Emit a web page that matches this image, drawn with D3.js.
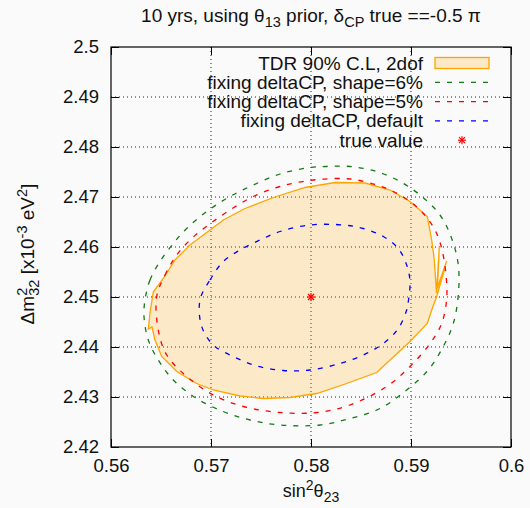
<!DOCTYPE html>
<html>
<head>
<meta charset="utf-8">
<script src="https://cdn.jsdelivr.net/npm/d3@7"></script>
<style>
  body { margin:0; background:#fafafa; }
  svg { display:block; font-family:"Liberation Sans", Arial, sans-serif; }
</style>
</head>
<body>
<div id="chart-area"></div>
<script>
// contour points, [sin^2 theta23, dm2_32 (x1e-3 eV^2)]
var tdr = [
  [0.56423,2.4510],[0.56523,2.4537],[0.5664,2.4574],[0.5679,2.4604],[0.56957,2.4629],
  [0.57123,2.4654],[0.5734,2.4677],[0.57623,2.4699],[0.5794,2.4719],[0.5824,2.4729],
  [0.5854,2.4728],[0.5879,2.4714],[0.5899,2.4691],[0.59163,2.4661],[0.59207,2.4614],
  [0.59233,2.4574],[0.59255,2.4508],[0.59283,2.4601],[0.59265,2.4518],[0.59357,2.4572],
  [0.5927,2.4522],[0.5934,2.4558],[0.59255,2.4500],[0.59207,2.4474],[0.59163,2.4447],
  [0.5899,2.4411],[0.58657,2.4349],[0.58357,2.4327],[0.58057,2.4307],[0.5779,2.4299],
  [0.57523,2.4297],[0.5729,2.4302],[0.57023,2.4314],[0.56857,2.4327],[0.56657,2.4351],
  [0.56507,2.4381],[0.5644,2.4414],[0.5641,2.4440],[0.56373,2.4436],[0.5639,2.4468]
];
var shape6 = [
  [0.5634,2.4494],[0.5639,2.4534],[0.5649,2.4571],[0.56623,2.4607],[0.56757,2.4637],
  [0.56957,2.4671],[0.5719,2.4701],[0.57423,2.4724],[0.5769,2.4746],[0.5799,2.4759],
  [0.58157,2.4761],[0.5839,2.4761],[0.58657,2.4751],[0.5889,2.4731],[0.5909,2.4704],
  [0.5929,2.4664],[0.59407,2.4617],[0.59473,2.4564],[0.59473,2.4504],[0.59423,2.4447],
  [0.59323,2.4401],[0.59173,2.4354],[0.58957,2.4314],[0.5869,2.4277],[0.5839,2.4257],
  [0.5809,2.4244],[0.5769,2.4244],[0.5739,2.4254],[0.57123,2.4271],[0.56857,2.4297],
  [0.56623,2.4334],[0.56473,2.4374],[0.56373,2.4414],[0.5633,2.4461]
];
var shape5 = [
  [0.56457,2.4501],[0.5654,2.4544],[0.56657,2.4584],[0.56807,2.4617],[0.56973,2.4644],
  [0.5719,2.4674],[0.57423,2.4701],[0.5769,2.4721],[0.58023,2.4734],[0.5839,2.4736],
  [0.58657,2.4724],[0.58823,2.4711],[0.5899,2.4691],[0.59123,2.4667],[0.5924,2.4634],
  [0.59307,2.4597],[0.5935,2.4544],[0.59357,2.4497],[0.59307,2.4447],[0.5919,2.4407],
  [0.5899,2.4361],[0.58757,2.4321],[0.5839,2.4284],[0.58057,2.4269],[0.5769,2.4269],
  [0.57323,2.4281],[0.57023,2.4304],[0.56757,2.4341],[0.56557,2.4384],[0.56473,2.4434]
];
var deflt = [
  [0.5689,2.4494],[0.5699,2.4534],[0.57123,2.4571],[0.5729,2.4594],[0.5749,2.4614],
  [0.5769,2.4631],[0.5799,2.4644],[0.58323,2.4644],[0.58523,2.4637],[0.58723,2.4621],
  [0.58873,2.4597],[0.58957,2.4564],[0.5899,2.4531],[0.58973,2.4491],[0.58957,2.4474],
  [0.58873,2.4437],[0.58723,2.4407],[0.58523,2.4384],[0.5829,2.4367],[0.5799,2.4354],
  [0.57723,2.4353],[0.57457,2.4362],[0.57223,2.4381],[0.57023,2.4404],[0.56907,2.4441]
];
var trueValue = [0.58, 2.45];

var xTicks = [0.56, 0.57, 0.58, 0.59, 0.6];
var yTicks = [2.42, 2.43, 2.44, 2.45, 2.46, 2.47, 2.48, 2.49, 2.5];
var legendLabels = ["TDR 90% C.L, 2dof", "fixing deltaCP, shape=6%", "fixing deltaCP, shape=5%",
                    "fixing deltaCP, default", "true value"];

var margin = { left:111, right:19, top:47, bottom:61 };
var width = 530 - margin.left - margin.right,
    height = 508 - margin.top - margin.bottom;

var svg = d3.select("#chart-area").append("svg")
    .attr("width", 530).attr("height", 508);

var g = svg.append("g")
    .attr("transform", "translate(" + margin.left + "," + margin.top + ")");

var x = d3.scaleLinear().domain([0.56, 0.6]).range([0, width]);
var y = d3.scaleLinear().domain([2.42, 2.5]).range([height, 0]);

svg.append("defs").append("clipPath").attr("id", "clip")
  .append("rect").attr("width", width).attr("height", height);

// grid
var grid = g.append("g").attr("class", "grid");
grid.selectAll("line.gx").data(xTicks.slice(1, -1)).enter().append("line")
    .attr("x1", d => x(d)).attr("x2", d => x(d)).attr("y1", 0).attr("y2", height);
grid.selectAll("line.gy").data(yTicks.slice(1, -1)).enter().append("line")
    .attr("y1", d => y(d)).attr("y2", d => y(d)).attr("x1", 0).attr("x2", width);
grid.selectAll("line")
    .attr("stroke", "#222").attr("stroke-width", 1).attr("stroke-dasharray", "1,3");

var line = d3.line().x(d => x(d[0])).y(d => y(d[1]));
var plot = g.append("g").attr("clip-path", "url(#clip)");

plot.append("path").datum(tdr)
    .attr("d", line.curve(d3.curveLinearClosed))
    .attr("fill", "rgba(255,165,0,0.2)")
    .attr("stroke", "#ffa500").attr("stroke-width", 1.3);

var smooth = d3.line().x(d => x(d[0])).y(d => y(d[1])).curve(d3.curveCatmullRomClosed);
[[shape6, "#137a13"], [shape5, "#ff0000"], [deflt, "#0000ff"]].forEach(c => {
  plot.append("path").datum(c[0]).attr("d", smooth)
      .attr("fill", "none").attr("stroke", c[1]).attr("stroke-width", 1.3)
      .attr("stroke-dasharray", "5,7");
});

// true value star
function star(sel, cx, cy, r) {
  var s = sel.append("g").attr("stroke", "#ff0000").attr("stroke-width", 1.2);
  [[0, -r, 0, r], [-r, 0, r, 0], [-r*0.75, -r*0.75, r*0.75, r*0.75], [-r*0.75, r*0.75, r*0.75, -r*0.75]]
    .forEach(l => s.append("line").attr("x1", cx + l[0]).attr("y1", cy + l[1])
                                   .attr("x2", cx + l[2]).attr("y2", cy + l[3]));
}
star(plot, x(trueValue[0]), y(trueValue[1]), 4);

// axes with inward ticks, mirrored
g.append("g").attr("transform", "translate(0," + height + ")")
  .call(d3.axisBottom(x).tickValues(xTicks).tickSizeInner(-8).tickSizeOuter(0).tickPadding(12).tickFormat(d3.format("")));
g.append("g").call(d3.axisTop(x).tickValues(xTicks).tickSizeInner(-8).tickSizeOuter(0).tickFormat(""));
g.append("g")
  .call(d3.axisLeft(y).tickValues(yTicks).tickSizeInner(-8).tickSizeOuter(0).tickPadding(12).tickFormat(d3.format("")));
g.append("g").attr("transform", "translate(" + width + ",0)")
  .call(d3.axisRight(y).tickValues(yTicks).tickSizeInner(-8).tickSizeOuter(0).tickFormat(""));
g.selectAll(".domain").remove();
g.selectAll(".tick line").attr("stroke", "#000");
g.selectAll(".tick text").attr("font-size", "18.5px").attr("fill", "#111")
  .attr("font-family", "Liberation Sans, Arial, sans-serif");

g.append("rect").attr("width", width).attr("height", height)
  .attr("fill", "none").attr("stroke", "#000").attr("stroke-width", 1.2);

// legend
var leg = g.append("g").attr("transform", "translate(" + (423 - margin.left) + ",0)");
legendLabels.forEach((t, i) => {
  var yy = 16 + i * 19.3;
  leg.append("text").attr("x", 0).attr("y", yy + 6.5).attr("text-anchor", "end")
     .attr("font-size", "19px").attr("fill", "#111").text(t);
  if (i == 0) {
    leg.append("rect").attr("x", 12).attr("y", yy - 5.5).attr("width", 54).attr("height", 11)
       .attr("fill", "rgba(255,165,0,0.2)").attr("stroke", "#ffa500").attr("stroke-width", 1.3);
  } else if (i < 4) {
    leg.append("line").attr("x1", 12).attr("x2", 66).attr("y1", yy).attr("y2", yy)
       .attr("stroke", ["#137a13", "#ff0000", "#0000ff"][i - 1]).attr("stroke-width", 1.3)
       .attr("stroke-dasharray", "5,7");
  } else {
    star(leg, 39, yy, 4);
  }
});

// title
var title = svg.append("text").attr("x", 311).attr("y", 22).attr("text-anchor", "middle")
  .attr("font-size", "19px").attr("fill", "#111");
title.append("tspan").text("10 yrs, using θ");
title.append("tspan").attr("dy", 5).attr("font-size", "14.5px").text("13");
title.append("tspan").attr("dy", -5).text(" prior, δ");
title.append("tspan").attr("dy", 5).attr("font-size", "14.5px").text("CP");
title.append("tspan").attr("dy", -5).text(" true ==-0.5 π");

// x label
var xl = svg.append("text").attr("x", 311).attr("y", 497).attr("text-anchor", "middle")
  .attr("font-size", "18px").attr("fill", "#111");
xl.append("tspan").text("sin");
xl.append("tspan").attr("dy", -7).attr("font-size", "14px").text("2");
xl.append("tspan").attr("dy", 7).text("θ");
xl.append("tspan").attr("dy", 5).attr("font-size", "14px").text("23");

// y label
var yl = svg.append("text").attr("transform", "translate(34,254) rotate(-90)")
  .attr("text-anchor", "middle").attr("font-size", "19px").attr("fill", "#111");
yl.append("tspan").text("Δm");
yl.append("tspan").attr("dy", -7).attr("font-size", "14.5px").text("2");
yl.append("tspan").attr("dx", -8).attr("dy", 12).attr("font-size", "14.5px").text("32");
yl.append("tspan").attr("dy", -5).text(" [x10");
yl.append("tspan").attr("dy", -7).attr("font-size", "14.5px").text("-3");
yl.append("tspan").attr("dy", 7).text(" eV");
yl.append("tspan").attr("dy", -7).attr("font-size", "14.5px").text("2");
yl.append("tspan").attr("dy", 7).text("]");
</script>
</body>
</html>
